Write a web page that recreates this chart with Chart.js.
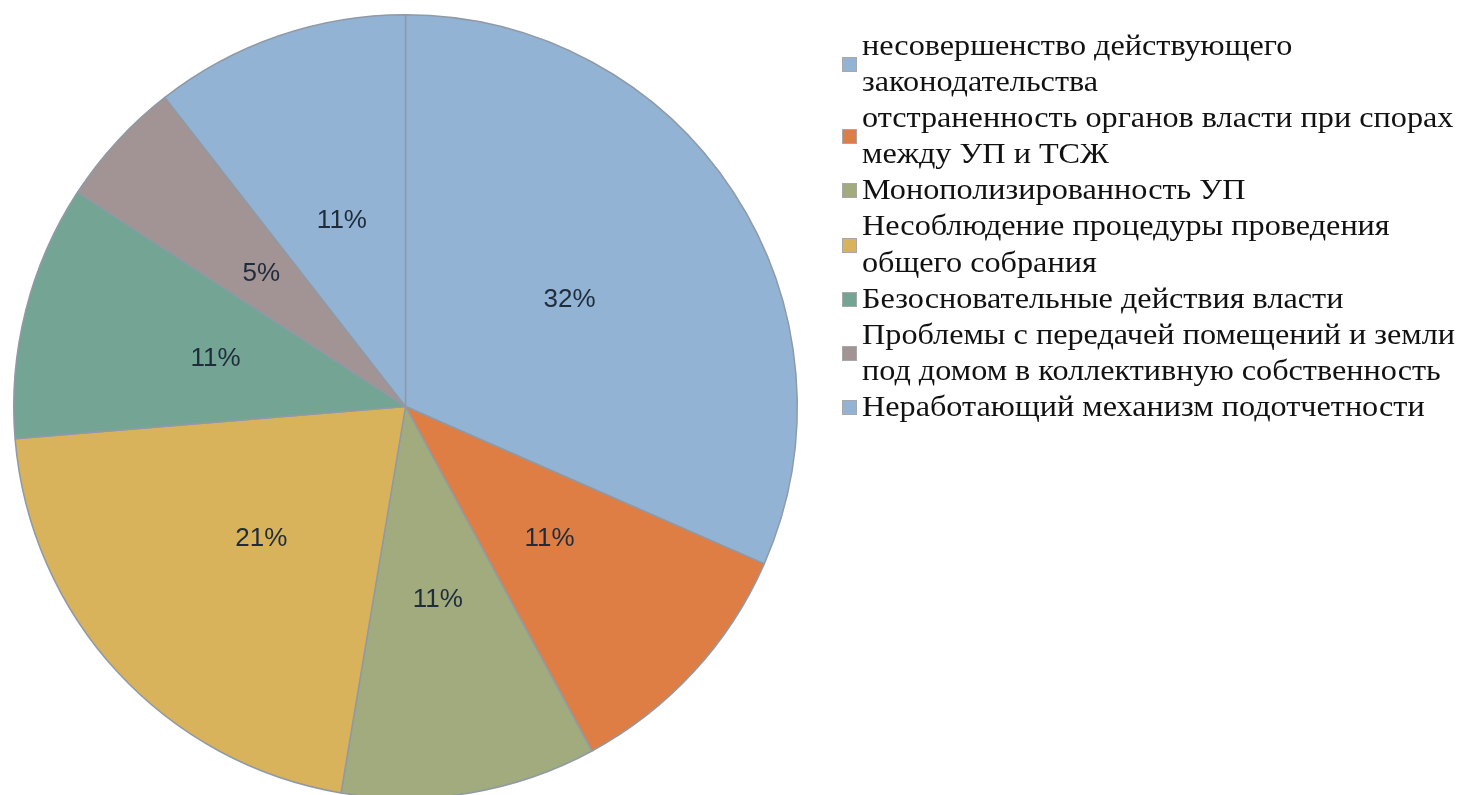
<!DOCTYPE html>
<html>
<head>
<meta charset="utf-8">
<script src="https://cdn.jsdelivr.net/npm/chart.js@4.4.0/dist/chart.umd.min.js"></script>
<style>
  html, body { margin: 0; padding: 0; background: #fff; overflow: hidden; width: 1460px; height: 795px; }
  #wrap { position: absolute; left: 0; top: 0; width: 1460px; height: 800px; }
  #legend { position: absolute; left: 840px; top: 27px; font-family: "Liberation Serif", "Times New Roman", serif; font-size: 30px; line-height: 36.1px; color: #111; }
  .item { position: relative; padding-left: 22px; white-space: nowrap; }
  .txt { transform: scaleX(1.074); transform-origin: 0 50%; }
  .box { position: absolute; left: 2px; top: 50%; width: 15px; height: 15px; margin-top: -6px; box-sizing: border-box; border: 1px solid #a8a8a8; }
</style>
</head>
<body>
<div id="wrap"><canvas id="c" width="1460" height="800"></canvas></div>
<div id="legend"></div>
<script>
const categories = [
  ["несовершенство действующего", "законодательства"],
  ["отстраненность органов власти при спорах", "между УП и ТСЖ"],
  ["Монополизированность УП"],
  ["Несоблюдение процедуры проведения", "общего собрания"],
  ["Безосновательные действия власти"],
  ["Проблемы с передачей помещений и земли", "под домом в коллективную собственность"],
  ["Неработающий механизм подотчетности"]
];
const counts = [6, 2, 2, 4, 2, 1, 2];
const colors = ["#93b3d4", "#de7e45", "#a2ab7e", "#d9b35b", "#74a594", "#a29394", "#93b3d4"];

const total = counts.reduce((a, b) => a + b, 0);

const labelPlugin = {
  id: 'sliceLabels',
  afterDatasetsDraw(chart) {
    const ctx = chart.ctx;
    const meta = chart.getDatasetMeta(0);
    ctx.save();
    ctx.font = '26px "Liberation Sans", Arial, sans-serif';
    ctx.fillStyle = '#1f2c3b';
    ctx.textAlign = 'center';
    ctx.textBaseline = 'middle';
    meta.data.forEach((arc, i) => {
      const p = arc.getCenterPoint();
      const pct = Math.round(counts[i] / total * 100) + '%';
      ctx.fillText(pct, p.x, p.y);
    });
    ctx.restore();
  }
};

const chart = new Chart(document.getElementById('c'), {
  type: 'pie',
  data: {
    labels: categories,
    datasets: [{
      data: counts,
      backgroundColor: colors,
      borderColor: '#8f9aa6',
      borderWidth: 1.5,
      hoverOffset: 0
    }]
  },
  options: {
    responsive: false,
    animation: false,
    layout: { padding: { left: 13, top: 14, right: 662, bottom: 1 } },
    plugins: { legend: { display: false }, tooltip: { enabled: false } }
  },
  plugins: [labelPlugin]
});

const legend = document.getElementById('legend');
categories.forEach((lines, i) => {
  const item = document.createElement('div');
  item.className = 'item';
  const box = document.createElement('span');
  box.className = 'box';
  box.style.background = colors[i];
  item.appendChild(box);
  lines.forEach((ln) => {
    const d = document.createElement('div');
    d.className = 'txt';
    d.textContent = ln;
    item.appendChild(d);
  });
  legend.appendChild(item);
});
</script>
</body>
</html>
